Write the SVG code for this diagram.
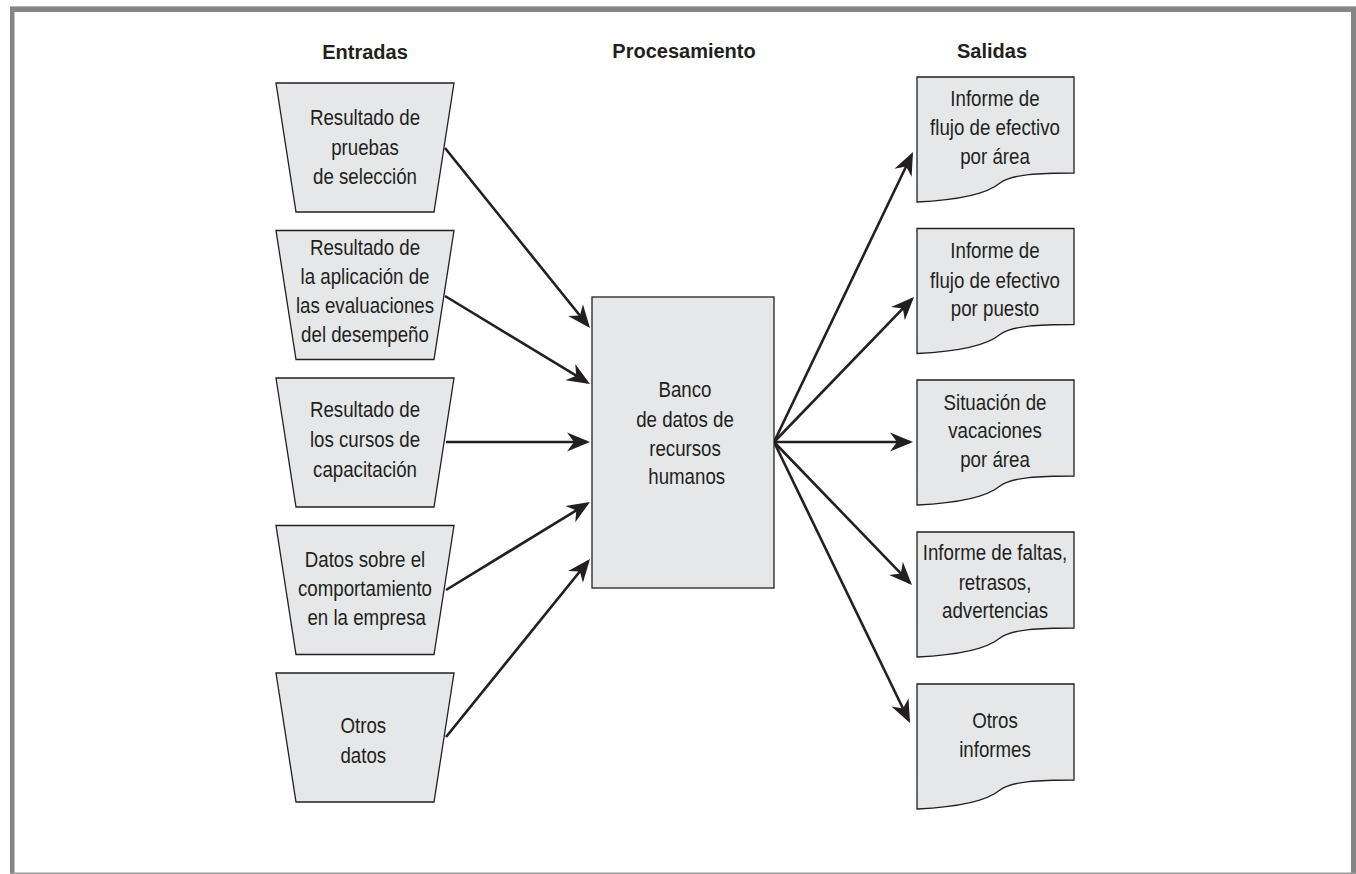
<svg xmlns="http://www.w3.org/2000/svg" width="1356" height="874" viewBox="0 0 1356 874">
<style>
.shape{fill:#e6e7e8;stroke:#231f20;stroke-width:1.3}
.t{font-family:"Liberation Sans",Arial,sans-serif;font-size:22px;fill:#231f20;text-anchor:middle}
.h{font-family:"Liberation Sans",Arial,sans-serif;font-size:20px;font-weight:bold;fill:#231f20;text-anchor:middle}
.c{stroke:#231f20;stroke-width:2.6;fill:none;marker-end:url(#ah)}
.frame{fill:#858585}
</style>
<defs>
<marker id="ah" viewBox="-24 -12 28 24" refX="0" refY="0" markerWidth="28" markerHeight="24" markerUnits="userSpaceOnUse" orient="auto">
<path d="M3,0 L-20,-9.5 L-13,0 L-20,9.5 Z" fill="#231f20"/>
</marker>
</defs>
<rect width="1356" height="874" fill="#ffffff"/>
<g id="frame">
<rect x="10" y="6" width="1346" height="1" fill="#b5b5b5"/>
<rect class="frame" x="10" y="7" width="1346" height="5"/>
<rect class="frame" x="10" y="7" width="4.5" height="867"/>
<rect class="frame" x="1351" y="7" width="5" height="867"/>
<rect x="10" y="872.5" width="1346" height="1.5" fill="#9a9a9a"/>
</g>
<g id="headers">
<text class="h" x="365" y="59">Entradas</text>
<text class="h" x="684" y="58">Procesamiento</text>
<text class="h" x="992" y="58">Salidas</text>
</g>
<g id="connectors">
<line class="c" x1="445" y1="148" x2="588.1" y2="325.7"/>
<line class="c" x1="445" y1="296" x2="587.4" y2="382.4"/>
<line class="c" x1="446" y1="442" x2="587" y2="442"/>
<line class="c" x1="446" y1="590" x2="587.4" y2="503.6"/>
<line class="c" x1="446" y1="737" x2="588.1" y2="561.3"/>
<line class="c" x1="774" y1="442" x2="911.7" y2="154.7"/>
<line class="c" x1="774" y1="442" x2="911.9" y2="299.2"/>
<line class="c" x1="774" y1="442" x2="910" y2="442"/>
<line class="c" x1="774" y1="442" x2="909.9" y2="582.8"/>
<line class="c" x1="774" y1="442" x2="908.7" y2="720.3"/>
</g>
<g id="in1">
<path class="shape" d="M276,83 H454 L434,212 H296 Z"/>
<g transform="matrix(0.85,0,0,1,54.75,0)">
<text class="t" x="365" y="125">Resultado de</text>
<text class="t" x="365" y="155">pruebas</text>
<text class="t" x="365" y="184">de selección</text>
</g>
</g>
<g id="in2">
<path class="shape" d="M276,230.5 H454 L434,359.5 H296 Z"/>
<g transform="matrix(0.85,0,0,1,54.75,0)">
<text class="t" x="365" y="255">Resultado de</text>
<text class="t" x="365" y="284">la aplicación  de</text>
<text class="t" x="365" y="313">las evaluaciones</text>
<text class="t" x="365" y="342">del desempeño</text>
</g>
</g>
<g id="in3">
<path class="shape" d="M276,378 H454 L434,507 H296 Z"/>
<g transform="matrix(0.85,0,0,1,54.75,0)">
<text class="t" x="365" y="417">Resultado de</text>
<text class="t" x="365" y="447">los cursos de</text>
<text class="t" x="365" y="477">capacitación</text>
</g>
</g>
<g id="in4">
<path class="shape" d="M276,525.5 H454 L434,654.5 H296 Z"/>
<g transform="matrix(0.85,0,0,1,54.75,0)">
<text class="t" x="365" y="567">Datos sobre el</text>
<text class="t" x="365" y="596">comportamiento</text>
<text class="t" x="367" y="625">en la empresa</text>
</g>
</g>
<g id="in5">
<path class="shape" d="M276,673 H454 L434,802 H296 Z"/>
<g transform="matrix(0.85,0,0,1,54.75,0)">
<text class="t" x="363" y="733">Otros</text>
<text class="t" x="363" y="763">datos</text>
</g>
</g>
<g id="center">
<rect class="shape" x="592" y="297" width="182" height="291"/>
<g transform="matrix(0.85,0,0,1,102.75,0)">
<text class="t" x="685" y="397">Banco</text>
<text class="t" x="685" y="427">de datos de</text>
<text class="t" x="685" y="456">recursos</text>
<text class="t" x="687" y="484">humanos</text>
</g>
</g>
<g id="out1">
<path class="shape" d="M917,77 H1074 V173 C1040,173 1012,174 1000,183 C988,193 960,200 917,202 Z"/>
<g transform="matrix(0.85,0,0,1,149.25,0)">
<text class="t" x="995" y="106">Informe de</text>
<text class="t" x="995" y="135">flujo de efectivo</text>
<text class="t" x="995" y="164">por área</text>
</g>
</g>
<g id="out2">
<path class="shape" d="M917,228.5 H1074 V324.5 C1040,324.5 1012,325.5 1000,334.5 C988,344.5 960,351.5 917,353.5 Z"/>
<g transform="matrix(0.85,0,0,1,149.25,0)">
<text class="t" x="995" y="258">Informe de</text>
<text class="t" x="995" y="288">flujo de efectivo</text>
<text class="t" x="995" y="316">por puesto</text>
</g>
</g>
<g id="out3">
<path class="shape" d="M917,380 H1074 V476 C1040,476 1012,477 1000,486 C988,496 960,503 917,505 Z"/>
<g transform="matrix(0.85,0,0,1,149.25,0)">
<text class="t" x="995" y="410">Situación de</text>
<text class="t" x="995" y="438">vacaciones</text>
<text class="t" x="995" y="467">por área</text>
</g>
</g>
<g id="out4">
<path class="shape" d="M917,532 H1074 V628 C1040,628 1012,629 1000,638 C988,648 960,655 917,657 Z"/>
<g transform="matrix(0.85,0,0,1,149.25,0)">
<text class="t" x="995" y="560">Informe de faltas,</text>
<text class="t" x="995" y="590">retrasos,</text>
<text class="t" x="995" y="618">advertencias</text>
</g>
</g>
<g id="out5">
<path class="shape" d="M917,684 H1074 V780 C1040,780 1012,781 1000,790 C988,800 960,807 917,809 Z"/>
<g transform="matrix(0.85,0,0,1,149.25,0)">
<text class="t" x="995" y="728">Otros</text>
<text class="t" x="995" y="757">informes</text>
</g>
</g>
</svg>
